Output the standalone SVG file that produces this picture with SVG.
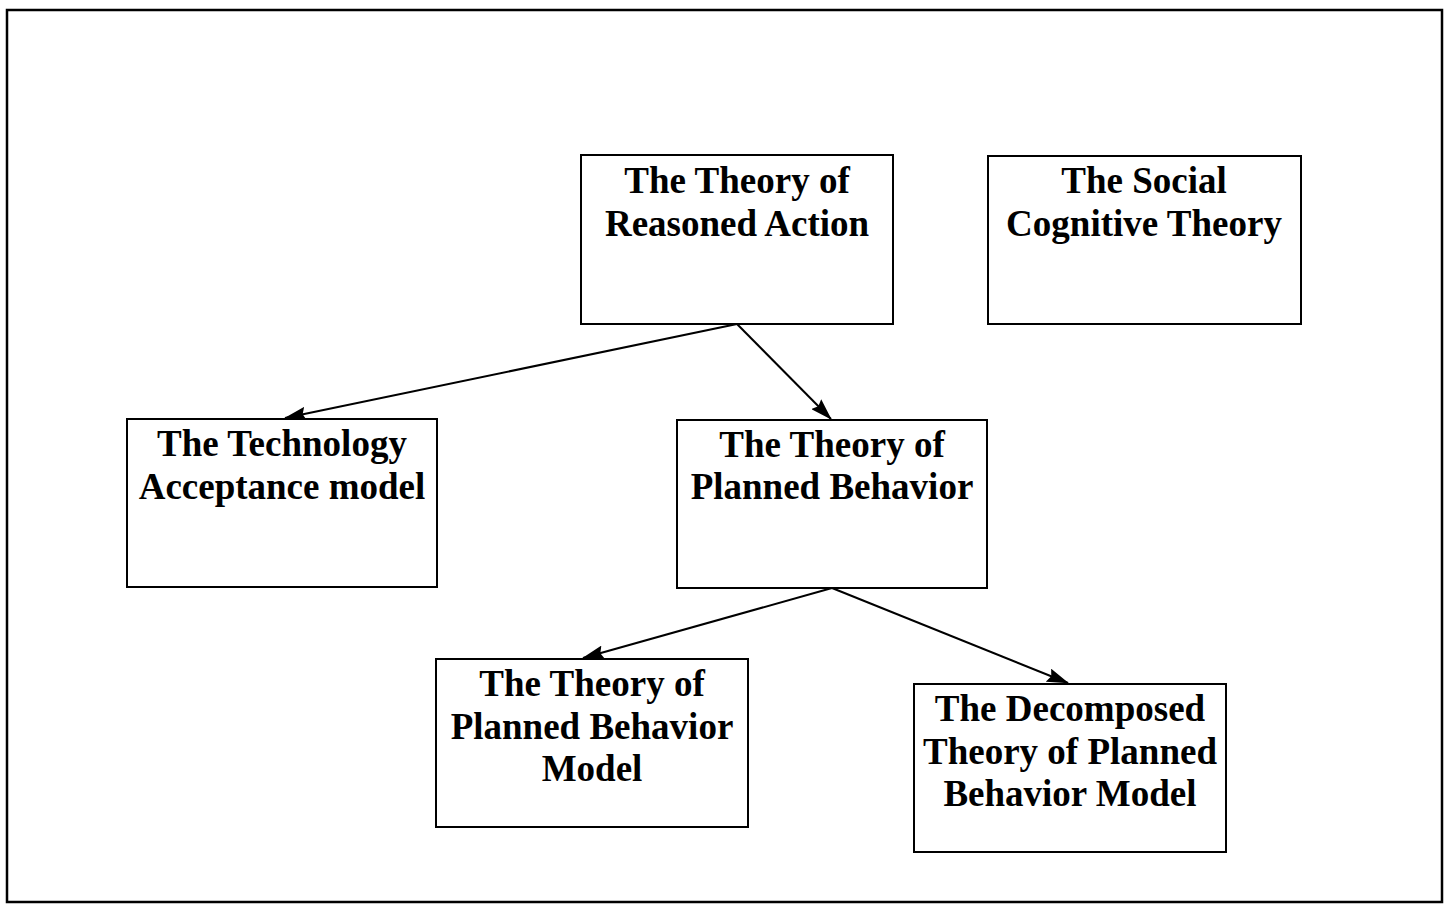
<svg xmlns="http://www.w3.org/2000/svg" width="1448" height="905" viewBox="0 0 1448 905">
  <style>
    .frame { fill: none; stroke: #000; stroke-width: 2.5; }
    .box { fill: #fff; stroke: #000; stroke-width: 2; }
    .label { font-family: "Liberation Serif", "Times New Roman", serif; font-weight: bold; font-size: 37px; fill: #000; text-anchor: middle; }
    .edge { stroke: #000; stroke-width: 2; fill: none; marker-end: url(#arrow); }
  </style>
  <defs>
    <marker id="arrow" viewBox="0 0 22 14" refX="21" refY="7" markerWidth="22" markerHeight="14" markerUnits="userSpaceOnUse" orient="auto">
      <path d="M0,0 L22,7 L0,14 L3,7 Z" fill="#000"/>
    </marker>
  </defs>
  <rect width="1448" height="905" fill="#fff"/>
  <rect class="frame" x="7" y="10" width="1435" height="892"/>

  <g id="connectors">
    <line class="edge" x1="737" y1="324" x2="285" y2="418"/>
    <line class="edge" x1="737" y1="324" x2="831" y2="419"/>
    <line class="edge" x1="832" y1="588" x2="583" y2="658"/>
    <line class="edge" x1="832" y1="588" x2="1068" y2="683"/>
  </g>

  <g id="tra">
    <rect class="box" x="581" y="155" width="312" height="169"/>
    <text class="label" x="737" y="193">The Theory of</text>
    <text class="label" x="737" y="236">Reasoned Action</text>
  </g>
  <g id="sct">
    <rect class="box" x="988" y="156" width="313" height="168"/>
    <text class="label" x="1144" y="193">The Social</text>
    <text class="label" x="1144" y="236">Cognitive Theory</text>
  </g>
  <g id="tam">
    <rect class="box" x="127" y="419" width="310" height="168"/>
    <text class="label" x="282" y="456">The Technology</text>
    <text class="label" x="282" y="499">Acceptance model</text>
  </g>
  <g id="tpb">
    <rect class="box" x="677" y="420" width="310" height="168"/>
    <text class="label" x="832" y="457">The Theory of</text>
    <text class="label" x="832" y="499">Planned Behavior</text>
  </g>
  <g id="tpb-model">
    <rect class="box" x="436" y="659" width="312" height="168"/>
    <text class="label" x="592" y="696">The Theory of</text>
    <text class="label" x="592" y="739">Planned Behavior</text>
    <text class="label" x="592" y="781">Model</text>
  </g>
  <g id="dtpb-model">
    <rect class="box" x="914" y="684" width="312" height="168"/>
    <text class="label" x="1070" y="721">The Decomposed</text>
    <text class="label" x="1070" y="764">Theory of Planned</text>
    <text class="label" x="1070" y="806">Behavior Model</text>
  </g>
</svg>
